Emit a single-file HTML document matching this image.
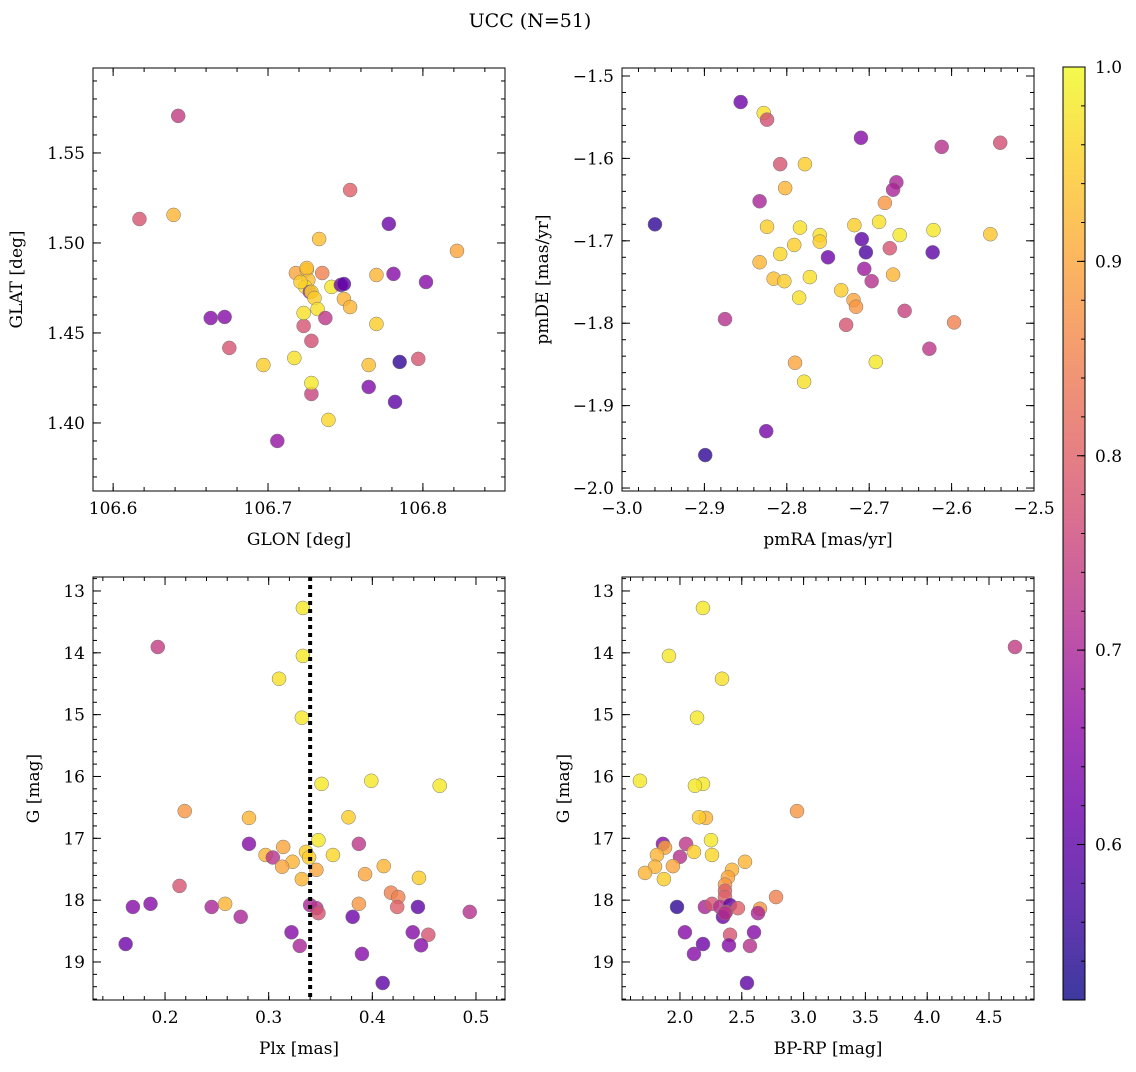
<!DOCTYPE html>
<html><head><meta charset="utf-8"><style>
body{margin:0;background:#fff}
svg text{font-family:"DejaVu Serif","Liberation Serif",serif;fill:#000}
</style></head><body>
<svg id="fig" width="1136" height="1067" viewBox="0 0 1136 1067" xmlns="http://www.w3.org/2000/svg">
<defs><linearGradient id="cbg" x1="0" y1="1" x2="0" y2="0"></linearGradient></defs>
<text x="530" y="27" font-size="19" text-anchor="middle">UCC (N=51)</text>
</svg>
<script>
// Panel 1: GLON / GLAT
const glon1=[106.642,106.617,106.639,106.663,106.672,106.675,106.697,106.717,106.706,106.718,106.723,106.723,106.725,106.726,106.724,106.727,106.728,106.730,106.728,106.728,106.728,106.732,106.733,106.735,106.737,106.739,106.741,106.747,106.749,106.749,106.753,106.753,106.765,106.765,106.770,106.770,106.778,106.781,106.785,106.782,106.797,106.802,106.822,106.721,106.725];
const glat1=[1.5706,1.5133,1.5156,1.4583,1.4589,1.4417,1.4322,1.4361,1.390,1.4833,1.4539,1.4611,1.485,1.4794,1.4756,1.4728,1.4728,1.4694,1.4161,1.4456,1.4222,1.4633,1.5022,1.4833,1.4583,1.4017,1.4756,1.4767,1.4772,1.4689,1.5294,1.4644,1.4322,1.420,1.4822,1.455,1.5106,1.4828,1.4339,1.4117,1.4356,1.4783,1.4956,1.4783,1.4861];
const prob1=[0.74,0.78,0.92,0.65,0.65,0.78,0.95,0.97,0.67,0.9,0.78,0.97,0.95,0.93,0.98,0.7,0.96,0.95,0.75,0.77,0.98,0.97,0.93,0.85,0.73,0.96,0.98,0.63,0.6,0.92,0.8,0.92,0.93,0.64,0.92,0.95,0.62,0.65,0.55,0.6,0.78,0.65,0.9,0.95,0.93];
// Panel 2: pmRA / pmDE
const pmra2=[-2.856,-2.828,-2.824,-2.808,-2.778,-2.802,-2.833,-2.710,-2.612,-2.541,-2.667,-2.671,-2.681,-2.960,-2.824,-2.784,-2.760,-2.760,-2.791,-2.718,-2.688,-2.663,-2.622,-2.553,-2.709,-2.704,-2.623,-2.750,-2.675,-2.833,-2.808,-2.816,-2.803,-2.772,-2.706,-2.697,-2.671,-2.734,-2.719,-2.716,-2.785,-2.657,-2.875,-2.728,-2.597,-2.627,-2.790,-2.692,-2.779,-2.825,-2.899];
const pmde2=[-1.5316,-1.545,-1.553,-1.607,-1.607,-1.636,-1.652,-1.575,-1.586,-1.581,-1.629,-1.638,-1.654,-1.680,-1.683,-1.684,-1.693,-1.701,-1.705,-1.681,-1.677,-1.693,-1.687,-1.692,-1.698,-1.714,-1.714,-1.720,-1.709,-1.726,-1.716,-1.746,-1.749,-1.744,-1.734,-1.749,-1.741,-1.760,-1.772,-1.780,-1.769,-1.785,-1.795,-1.802,-1.799,-1.831,-1.848,-1.847,-1.871,-1.931,-1.960];
const prob2=[0.62,0.97,0.77,0.78,0.95,0.92,0.7,0.65,0.72,0.77,0.7,0.7,0.88,0.55,0.95,0.97,0.97,0.95,0.95,0.95,0.97,0.98,0.98,0.94,0.6,0.58,0.6,0.62,0.78,0.92,0.96,0.93,0.95,0.97,0.68,0.72,0.92,0.95,0.9,0.88,0.97,0.75,0.72,0.78,0.85,0.73,0.9,0.98,0.97,0.63,0.55];
// Panel 3: Plx / G
const plx3=[0.333,0.333,0.193,0.310,0.332,0.399,0.351,0.465,0.219,0.281,0.377,0.281,0.387,0.348,0.314,0.297,0.304,0.323,0.313,0.336,0.339,0.362,0.346,0.332,0.411,0.393,0.445,0.418,0.425,0.214,0.169,0.186,0.245,0.258,0.387,0.340,0.346,0.348,0.424,0.444,0.494,0.273,0.381,0.322,0.439,0.454,0.330,0.447,0.162,0.390,0.410];
const g3=[13.275,14.05,13.906,14.42,15.05,16.07,16.12,16.15,16.56,16.67,16.66,17.09,17.09,17.03,17.14,17.27,17.31,17.38,17.46,17.22,17.31,17.27,17.51,17.66,17.45,17.58,17.64,17.88,17.95,17.77,18.11,18.06,18.11,18.06,18.06,18.08,18.13,18.21,18.11,18.11,18.19,18.27,18.27,18.52,18.52,18.56,18.74,18.73,18.71,18.87,19.34];
const prob3=[0.98,0.98,0.74,0.97,0.98,0.98,0.98,0.98,0.88,0.92,0.95,0.65,0.73,0.98,0.9,0.92,0.72,0.92,0.9,0.95,0.95,0.96,0.9,0.92,0.92,0.9,0.95,0.85,0.85,0.78,0.65,0.65,0.7,0.92,0.88,0.7,0.72,0.78,0.8,0.6,0.72,0.7,0.62,0.65,0.65,0.78,0.7,0.65,0.62,0.65,0.6];
const plxLine=0.34;
// Panel 4: BP-RP / G
const bprp4=[2.186,4.710,1.911,2.340,2.138,1.676,2.186,2.121,2.947,2.210,2.154,1.862,2.049,2.251,1.879,1.814,2.0,2.113,2.259,1.943,1.798,2.526,2.421,2.388,1.717,1.870,2.364,2.364,2.777,2.364,1.976,2.202,2.259,2.324,2.405,2.469,2.647,2.372,2.631,2.348,2.364,2.040,2.599,2.405,2.186,2.396,2.566,2.113,2.542];
const g4=[13.275,13.906,14.05,14.42,15.05,16.07,16.12,16.15,16.56,16.67,16.66,17.09,17.09,17.03,17.15,17.27,17.30,17.22,17.27,17.45,17.46,17.38,17.51,17.63,17.56,17.66,17.75,17.85,17.95,17.95,18.11,18.11,18.06,18.11,18.08,18.13,18.14,18.19,18.21,18.27,18.21,18.52,18.52,18.56,18.71,18.73,18.74,18.87,19.34];
const prob4=[0.98,0.74,0.98,0.97,0.98,0.98,0.98,0.98,0.88,0.92,0.95,0.65,0.73,0.98,0.9,0.92,0.72,0.95,0.96,0.9,0.92,0.92,0.92,0.9,0.92,0.95,0.88,0.8,0.85,0.8,0.55,0.7,0.78,0.72,0.6,0.8,0.88,0.78,0.7,0.62,0.72,0.65,0.65,0.78,0.62,0.65,0.72,0.65,0.6];
// Tick labels
const ticks1x=[106.6,106.7,106.8], ticks1y=[1.40,1.45,1.50,1.55];
const ticks2x=[-3.0,-2.9,-2.8,-2.7,-2.6,-2.5], ticks2y=[-2.0,-1.9,-1.8,-1.7,-1.6,-1.5];
const ticks3x=[0.2,0.3,0.4,0.5], ticksGy=[13,14,15,16,17,18,19];
const ticks4x=[2.0,2.5,3.0,3.5,4.0,4.5];
const ticksCb=[0.6,0.7,0.8,0.9,1.0];
const cmin=0.52,cmax=1.0;

const NS="http://www.w3.org/2000/svg";
const svg=document.getElementById('fig');
const stops=["#0d0887","#41049d","#6a00a8","#8f0da4","#b12a90","#cc4778","#e16462","#f2844b","#fca636","#fcce25","#f0f921"];
function hex(h){return [1,3,5].map(i=>parseInt(h.substr(i,2),16));}
function cmap(v){let t=Math.max(0,Math.min(1,(v-cmin)/(cmax-cmin)))*10;let i=Math.min(9,Math.floor(t));let f=t-i;let a=hex(stops[i]),b=hex(stops[i+1]);return 'rgb('+a.map((x,k)=>Math.round(x+(b[k]-x)*f)).join(',')+')';}
function mk(tag,attrs,parent){const e=document.createElementNS(NS,tag);for(const k in attrs)e.setAttribute(k,attrs[k]);(parent||svg).appendChild(e);return e;}
function fmt(v,d){return (v<0?'\u2212':'')+Math.abs(v).toFixed(d);}

function panel(o){
  const g=mk('g',{});
  
  
  const sx=v=>o.x0+(v-o.xmin)/(o.xmax-o.xmin)*(o.x1-o.x0);
  const sy=o.inv? v=>o.y0+(v-o.ymin)/(o.ymax-o.ymin)*(o.y1-o.y0) : v=>o.y1-(v-o.ymin)/(o.ymax-o.ymin)*(o.y1-o.y0);
  for(let i=0;i<o.xs.length;i++){
    const c=mk('circle',{cx:sx(o.xs[i]),cy:sy(o.ys[i]),r:7,fill:cmap(o.cs[i]),'fill-opacity':0.8,stroke:'#777','stroke-width':0.5},g);
    
    
  }
  if(o.vline!==undefined){
    const l=mk('line',{x1:sx(o.vline),x2:sx(o.vline),y1:o.y0,y2:o.y1,stroke:'#000','stroke-width':4,'stroke-dasharray':'4,4'},g);
    
    
  }
  const fr=mk('rect',{x:o.x0,y:o.y0,width:o.x1-o.x0,height:o.y1-o.y0,fill:'none',stroke:'#000','stroke-width':1},g);
  
  
  const eps=1e-9;
  for(let v=Math.ceil(o.xmin/o.xminor-eps)*o.xminor;v<=o.xmax+eps;v+=o.xminor){const p=sx(v);
    mk('line',{x1:p,x2:p,y1:o.y1,y2:o.y1-4,stroke:'#000'},g);mk('line',{x1:p,x2:p,y1:o.y0,y2:o.y0+4,stroke:'#000'},g);}
  for(let v=Math.ceil(o.ymin/o.yminor-eps)*o.yminor;v<=o.ymax+eps;v+=o.yminor){const p=sy(v);
    mk('line',{x1:o.x0,x2:o.x0+4,y1:p,y2:p,stroke:'#000'},g);mk('line',{x1:o.x1,x2:o.x1-4,y1:p,y2:p,stroke:'#000'},g);}
  o.xt.forEach(v=>{const p=sx(v);
    mk('line',{x1:p,x2:p,y1:o.y1,y2:o.y1-8,stroke:'#000'},g);mk('line',{x1:p,x2:p,y1:o.y0,y2:o.y0+8,stroke:'#000'},g);
    const t=mk('text',{x:p,y:o.y1+23,'font-size':17,'text-anchor':'middle'},g);t.textContent=fmt(v,o.xd);
    
    });
  o.yt.forEach(v=>{const p=sy(v);
    mk('line',{x1:o.x0,x2:o.x0+8,y1:p,y2:p,stroke:'#000'},g);mk('line',{x1:o.x1,x2:o.x1-8,y1:p,y2:p,stroke:'#000'},g);
    const t=mk('text',{x:o.x0-8,y:p+6,'font-size':17,'text-anchor':'end'},g);t.textContent=fmt(v,o.yd);
    
    });
  const xl=mk('text',{x:(o.x0+o.x1)/2,y:o.y1+54,'font-size':17,'text-anchor':'middle'},g);xl.textContent=o.xlabel;
  
  
  const yx=o.ylx, yy=(o.y0+o.y1)/2;
  const yl=mk('text',{x:yx,y:yy,'font-size':17,'text-anchor':'middle',transform:'rotate(-90 '+yx+' '+yy+')'},g);yl.textContent=o.ylabel;
  
  
}
panel({name:'glon-glat-panel',x0:93,x1:505,y0:68,y1:491,xmin:106.587,xmax:106.853,ymin:1.3622,ymax:1.5972,xs:glon1,ys:glat1,cs:prob1,xt:ticks1x,yt:ticks1y,xd:1,yd:2,xminor:0.02,yminor:0.01,xlabel:'GLON [deg]',ylabel:'GLAT [deg]',ylx:22});
panel({name:'pm-panel',x0:622,x1:1034,y0:68,y1:491,xmin:-3.0,xmax:-2.5,ymin:-2.0036,ymax:-1.4903,xs:pmra2,ys:pmde2,cs:prob2,xt:ticks2x,yt:ticks2y,xd:1,yd:1,xminor:0.02,yminor:0.02,xlabel:'pmRA [mas/yr]',ylabel:'pmDE [mas/yr]',ylx:548});
panel({name:'plx-g-panel',x0:93,x1:505,y0:577,y1:1000,xmin:0.1305,xmax:0.528,ymin:12.774,ymax:19.615,inv:true,xs:plx3,ys:g3,cs:prob3,xt:ticks3x,yt:ticksGy,xd:1,yd:0,xminor:0.02,yminor:0.2,xlabel:'Plx [mas]',ylabel:'G [mag]',ylx:39,vline:plxLine});
panel({name:'color-g-panel',x0:622,x1:1034,y0:577,y1:1000,xmin:1.531,xmax:4.864,ymin:12.774,ymax:19.615,inv:true,xs:bprp4,ys:g4,cs:prob4,xt:ticks4x,yt:ticksGy,xd:1,yd:0,xminor:0.1,yminor:0.2,xlabel:'BP-RP [mag]',ylabel:'G [mag]',ylx:569});

const grad=document.getElementById('cbg');
stops.forEach((s,i)=>mk('stop',{offset:(i/10),'stop-color':s,'stop-opacity':0.8},grad));
const cb=mk('g',{});


const cx0=1063,cx1=1085,cy0=67,cy1=1000;
const cyv=v=>cy1-(v-cmin)/(cmax-cmin)*(cy1-cy0);
mk('rect',{x:cx0,y:cy0,width:cx1-cx0,height:cy1-cy0,fill:'url(#cbg)',stroke:'#000','stroke-width':1},cb);
for(let v=0.52;v<=1.0001;v+=0.02){const p=cyv(v);mk('line',{x1:cx1,x2:cx1-4,y1:p,y2:p,stroke:'#000'},cb);}
ticksCb.forEach(v=>{const p=cyv(v);mk('line',{x1:cx1,x2:cx1-8,y1:p,y2:p,stroke:'#000'},cb);
  const t=mk('text',{x:cx1+10,y:p+6,'font-size':17},cb);t.textContent=v.toFixed(1);
  
  });
</script>
</body></html>
